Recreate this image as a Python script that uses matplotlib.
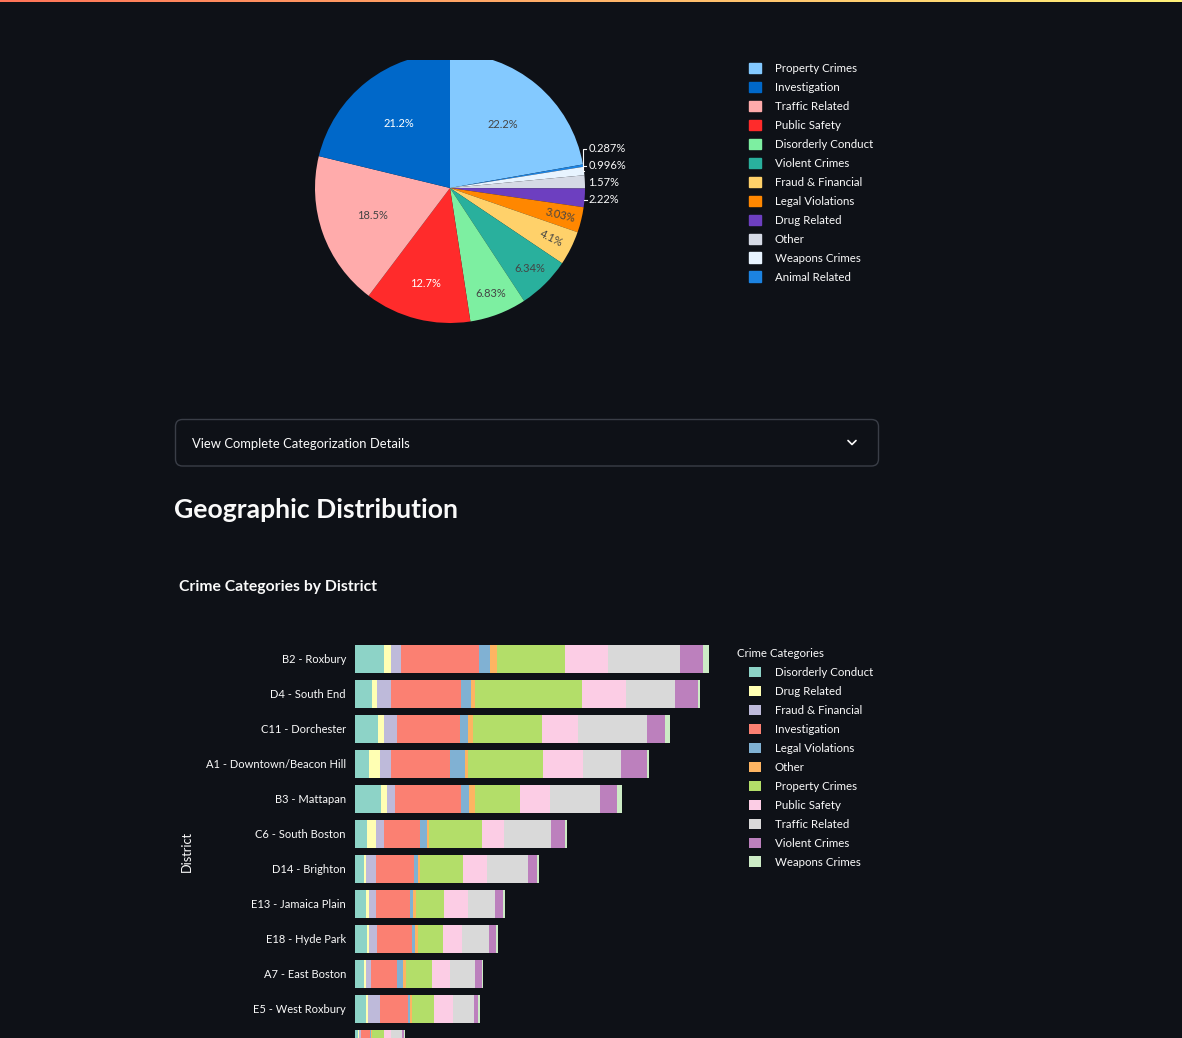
import numpy as np
import matplotlib
matplotlib.use('Agg')
import matplotlib.pyplot as plt
from matplotlib.patches import Rectangle, FancyBboxPatch
from matplotlib.colors import to_rgb, LinearSegmentedColormap

W, H = 1182, 1038
BG = '#0e1117'
FG = '#fafafa'
FONT = ['Lato', 'DejaVu Sans']
plt.rcParams['font.family'] = FONT

# pie: share of incidents per crime category (percent)
pie_labels = ['Property Crimes', 'Investigation', 'Traffic Related', 'Public Safety',
              'Disorderly Conduct', 'Violent Crimes', 'Fraud & Financial', 'Legal Violations',
              'Drug Related', 'Other', 'Weapons Crimes', 'Animal Related']
pie_values = [22.2, 21.2, 18.5, 12.7, 6.83, 6.34, 4.1, 3.03, 2.22, 1.57, 0.996, 0.287]
pie_colors = ['#83c9ff', '#0068c9', '#ffabab', '#ff2b2b', '#7defa1', '#29b09d',
              '#ffd16a', '#ff8700', '#6d3fc0', '#d5dae5', '#e8f4ff', '#1c83e1']
# slice order on the pie (clockwise from 12 o'clock)
pie_order = ['Property Crimes', 'Animal Related', 'Weapons Crimes', 'Other', 'Drug Related',
             'Legal Violations', 'Fraud & Financial', 'Violent Crimes', 'Disorderly Conduct',
             'Public Safety', 'Traffic Related', 'Investigation']

# stacked bars: incidents per district and category
districts = ['B2 - Roxbury', 'D4 - South End', 'C11 - Dorchester', 'A1 - Downtown/Beacon Hill',
             'B3 - Mattapan', 'C6 - South Boston', 'D14 - Brighton', 'E13 - Jamaica Plain',
             'E18 - Hyde Park', 'A7 - East Boston', 'E5 - West Roxbury', 'A15 - Charlestown']
bar_categories = ['Disorderly Conduct', 'Drug Related', 'Fraud & Financial', 'Investigation',
                  'Legal Violations', 'Other', 'Property Crimes', 'Public Safety',
                  'Traffic Related', 'Violent Crimes', 'Weapons Crimes']
disorderly = [29, 17, 23, 14, 26, 12, 9, 11, 12, 9, 11, 3]
drug = [7, 5, 6, 11, 6, 9, 2, 3, 2, 2, 2, 1]
fraud = [10, 14, 13, 11, 8, 8, 10, 7, 8, 5, 12, 2]
investigation = [78, 70, 63, 59, 66, 36, 38, 34, 35, 26, 28, 9]
legal = [11, 10, 8, 15, 8, 7, 4, 3, 3, 6, 2, 1]
other = [7, 4, 5, 3, 6, 2, 2, 3, 3, 3, 2, 1]
property_crimes = [68, 107, 69, 75, 45, 53, 43, 28, 25, 26, 22, 12]
public_safety = [43, 44, 36, 40, 30, 22, 24, 24, 19, 18, 19, 7]
traffic = [72, 49, 69, 38, 50, 47, 41, 27, 27, 25, 21, 11]
violent = [23, 23, 18, 26, 17, 14, 9, 8, 7, 7, 4, 2]
weapons = [6, 2, 5, 2, 5, 2, 2, 2, 2, 1, 2, 1]
bar_colors = ['#8dd3c7', '#ffffb3', '#bebada', '#fb8072', '#80b1d3', '#fdb462',
              '#b3de69', '#fccde5', '#d9d9d9', '#bc80bd', '#ccebc5']


def px_rect(x0, y0, x1, y1):
    # pixel box (top-left origin) -> figure fraction rect
    return [x0 / W, 1 - y1 / H, (x1 - x0) / W, (y1 - y0) / H]


def fx(x):
    return x / W


def fy(y):
    return 1 - y / H


fig = plt.figure(figsize=(W / 100, H / 100), dpi=100, facecolor=BG)

# ---- pie chart ----
color_of = dict(zip(pie_labels, pie_colors))
value_of = dict(zip(pie_labels, pie_values))
vals = np.array([value_of[k] for k in pie_order])
cols = [color_of[k] for k in pie_order]
shares = vals / vals.sum() * 100

ax_pie = fig.add_axes(px_rect(315, 53, 585, 323))
wedges, _ = ax_pie.pie(vals, colors=cols, startangle=90, counterclock=False,
                       wedgeprops=dict(linewidth=0))
ax_pie.set_xlim(-1, 1)
ax_pie.set_ylim(-1, 1)
ax_pie.set_aspect('equal')
ax_pie.axis('off')

outside = []
for w, share, c in zip(wedges, shares, cols):
    mid = np.deg2rad((w.theta1 + w.theta2) / 2)
    txt = f'{share:.3g}%'
    if share < 2.5:
        outside.append((mid, txt))
        continue
    r = 0.61 if share > 15 else (0.73 if share > 10 else 0.84)
    lum = np.dot(to_rgb(c), [0.299, 0.587, 0.114])
    tc = '#444444' if lum > 0.5 else 'white'
    rot = np.rad2deg(mid) if share < 5 else 0
    ax_pie.text(r * np.cos(mid), r * np.sin(mid), txt, ha='center', va='center',
                color=tc, fontsize=8, rotation=rot, rotation_mode='anchor')

# outside labels, pushed apart from the bottom up
outside.sort(key=lambda t: np.sin(t[0]))
ys = []
for mid, txt in outside:
    y = np.sin(mid) - 0.015
    if ys:
        y = max(y, ys[-1] + 0.126)
    ys.append(y)
for i, ((mid, txt), y) in enumerate(zip(outside, ys)):
    x0, y0 = np.cos(mid), np.sin(mid)
    if abs(y - y0) > 0.03:
        ax_pie.plot([x0, 0.985, 0.985, 1.01], [y0, y0, y, y], color=FG, lw=0.8, clip_on=False)
    elif i == 0:
        ax_pie.plot([0.995, 1.015], [y, y], color=FG, lw=0.8, clip_on=False)
    ax_pie.text(1.025, y, txt, ha='left', va='center', color=FG, fontsize=8)

leg_kw = dict(loc='upper left', frameon=False, fontsize=8.3, labelcolor=FG,
              handlelength=1.0, handleheight=1.0, handletextpad=1.25,
              labelspacing=0.68, borderpad=0, borderaxespad=0)
pie_handles = [Rectangle((0, 0), 1, 1, color=color_of[k]) for k in pie_labels]
fig.legend(pie_handles, pie_labels, bbox_to_anchor=(fx(749), fy(63)), **leg_kw)

# ---- expander + headings ----
ax_bg = fig.add_axes([0, 0, 1, 1], zorder=-1)
ax_bg.set_xlim(0, W)
ax_bg.set_ylim(H, 0)
ax_bg.axis('off')
ax_bg.add_patch(FancyBboxPatch((175.5, 419.5), 703, 46.5, boxstyle='round,pad=0,rounding_size=7',
                               facecolor='none', edgecolor='#3a3e47', lw=1))
ax_bg.text(192, 443.5, 'View Complete Categorization Details', color=FG, fontsize=9.4,
           ha='left', va='center')
ax_bg.plot([848, 852, 856], [440.5, 444.5, 440.5], color=FG, lw=1.2, solid_capstyle='round')
ax_bg.text(174, 510, 'Geographic Distribution', color=FG, fontsize=19.1, fontweight='bold',
           ha='left', va='center')
ax_bg.text(179, 587, 'Crime Categories by District', color=FG, fontsize=11.3, fontweight='bold',
           ha='left', va='center')

# ---- stacked bars ----
series = [disorderly, drug, fraud, investigation, legal, other, property_crimes,
          public_safety, traffic, violent, weapons]
data = np.array(series, dtype=float)
totals = data.sum(axis=0)

ax_bar = fig.add_axes(px_rect(355, 641, 727, 1061))
ax_bar.set_facecolor(BG)
ypos = np.arange(len(districts))
left = np.zeros(len(districts))
for row, name, c in zip(data, bar_categories, bar_colors):
    ax_bar.barh(ypos, row, left=left, height=0.8, color=c, linewidth=0, label=name)
    left += row
ax_bar.set_xlim(0, totals.max() * 1.05)
ax_bar.set_ylim(len(districts) - 0.5, -0.5)
ax_bar.set_yticks(ypos, districts)
ax_bar.set_xticks([])
ax_bar.tick_params(axis='y', length=0, pad=6.5, labelsize=8.0, labelcolor=FG)
for s in ax_bar.spines.values():
    s.set_visible(False)
# the last district row scrolls below the page edge, its label is not on screen
for lab in ax_bar.get_yticklabels()[-1:]:
    lab.set_visible(False)
ax_bar.set_ylabel('District', color=FG, fontsize=9.2)
ax_bar.yaxis.set_label_coords((193 - 355) / 372, 0.5)

fig.text(fx(737), fy(653.5), 'Crime Categories', color=FG, fontsize=8.3, ha='left', va='center')
h, l = ax_bar.get_legend_handles_labels()
fig.legend(h, l, bbox_to_anchor=(fx(749), fy(667)), **leg_kw)

# ---- sticky header covering the top of the page ----
ax_head = fig.add_axes(px_rect(0, 0, W, 60), zorder=10)
ax_head.set_facecolor(BG)
ax_head.set_xticks([])
ax_head.set_yticks([])
for s in ax_head.spines.values():
    s.set_visible(False)
deco = LinearSegmentedColormap.from_list('deco', ['#ff7458', '#fff27a'])
strip = deco(np.linspace(0, 1, W))[None, :, :3].repeat(2, axis=0)
fig.figimage(strip, xo=0, yo=H - 2, zorder=20)

fig.savefig('out.png', dpi=100, facecolor=BG)
